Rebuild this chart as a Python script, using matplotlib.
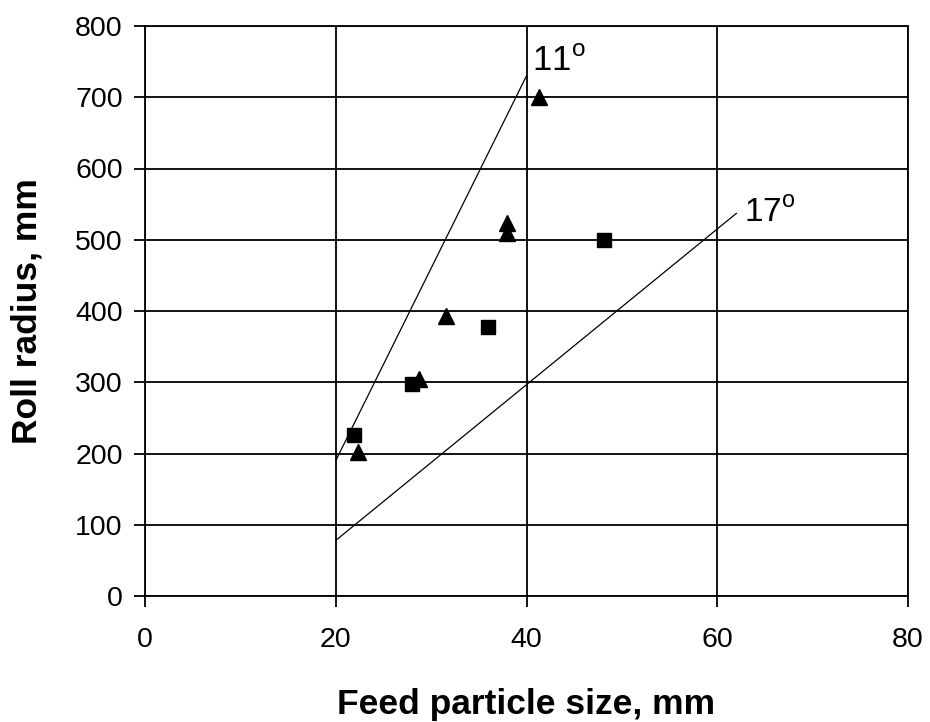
import matplotlib
matplotlib.use('Agg')
import matplotlib.pyplot as plt

# data
tri_x = [22.3, 28.7, 31.6, 38.0, 38.0, 41.3]
tri_y = [202, 305, 393, 509, 523, 700]
sq_x = [21.9, 28.0, 36.0, 48.1]
sq_y = [226, 298, 378, 500]

line11_x = [20, 40]
line11_y = [190, 730]
line17_x = [20, 62]
line17_y = [78, 537]

x_ticks = [0, 20, 40, 60, 80]
y_ticks = [0, 100, 200, 300, 400, 500, 600, 700, 800]

plt.rcParams['font.family'] = ['Liberation Sans', 'DejaVu Sans']
plt.rcParams['mathtext.fontset'] = 'custom'
plt.rcParams['mathtext.rm'] = 'Liberation Sans'

fig = plt.figure(figsize=(9.3, 7.22), dpi=100)
ax = fig.add_axes([145/930, 1 - 596/722, (908-145)/930, (596-26)/722])

# reference lines
ax.plot(line11_x, line11_y, color='black', lw=0.9, zorder=3)
ax.plot(line17_x, line17_y, color='black', lw=0.9, zorder=3)

# data points
ax.plot(tri_x, tri_y, linestyle='none', marker='^', ms=11.5, color='black', zorder=4)
ax.plot(sq_x, sq_y, linestyle='none', marker='s', ms=10.5, color='black', zorder=4)

# angle labels
ax.text(40.6, 737, r'11$^{\mathrm{o}}$', fontsize=25, ha='left', va='baseline')
ax.text(62.8, 526, r'17$^{\mathrm{o}}$', fontsize=24, ha='left', va='baseline')

ax.set_xlim(0, 80)
ax.set_ylim(0, 800)
ax.set_xticks(x_ticks)
ax.set_yticks(y_ticks)
ax.grid(True, color='black', lw=1.3)
for s in ax.spines.values():
    s.set_color('black')
    s.set_linewidth(1.3)
ax.tick_params(axis='both', direction='out', length=8, width=1.3, labelsize=20.5)
ax.tick_params(axis='x', pad=14)
ax.tick_params(axis='y', pad=8)

ax.set_xlabel('Feed particle size, mm', fontsize=25.5, fontweight='bold')
ax.set_ylabel('Roll radius, mm', fontsize=25.5, fontweight='bold')
ax.xaxis.set_label_coords(0.5, -0.162)
ax.yaxis.set_label_coords(-0.133, 0.5)

fig.savefig('out.png', dpi=100)
plt.close()
